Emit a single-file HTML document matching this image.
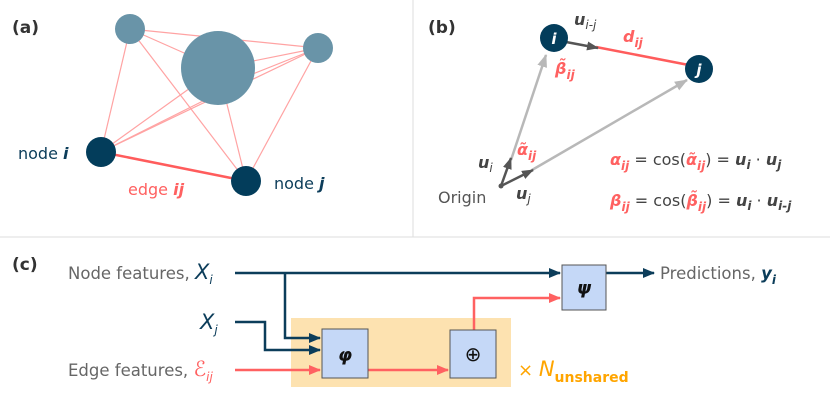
<!DOCTYPE html><html><head><style>body{margin:0;background:#fff}svg{display:block;font-family:"DejaVu Sans","Liberation Sans",sans-serif}</style></head><body>
<svg width="830" height="415" viewBox="0 0 830 415">
<defs>
<marker id="ad" markerWidth="12" markerHeight="10" refX="11" refY="5" orient="auto" markerUnits="userSpaceOnUse"><path d="M0,0L12,5L0,10z" fill="#0c3d5a"/></marker>
<marker id="ar" markerWidth="12" markerHeight="10" refX="11" refY="5" orient="auto" markerUnits="userSpaceOnUse"><path d="M0,0L12,5L0,10z" fill="#ff6161"/></marker>
<marker id="ag" markerWidth="13" markerHeight="10" refX="12" refY="5" orient="auto" markerUnits="userSpaceOnUse"><path d="M0,0L13,5L0,10z" fill="#b8b8b8"/></marker>
<marker id="ak" markerWidth="12" markerHeight="9" refX="11" refY="4.5" orient="auto" markerUnits="userSpaceOnUse"><path d="M0,0L12,4.5L0,9z" fill="#555"/></marker>
</defs>
<line x1="413" y1="0" x2="413" y2="237" stroke="#ddd"/>
<line x1="0" y1="237" x2="830" y2="237" stroke="#ddd"/>
<!-- (a) -->
<text x="12" y="33" font-size="17" font-weight="bold" fill="#333">(a)</text>
<g stroke="#ffa3a3" stroke-width="1.2">
<line x1="130" y1="29" x2="218" y2="68"/><line x1="130" y1="29" x2="101" y2="152"/><line x1="130" y1="29" x2="246" y2="181"/>
<line x1="218" y1="68" x2="318" y2="48"/><line x1="218" y1="68" x2="101" y2="152"/><line x1="218" y1="68" x2="246" y2="181"/>
<line x1="318" y1="48" x2="246" y2="181"/><line x1="318" y1="48" x2="101" y2="152"/>
<line x1="130" y1="29" x2="318" y2="48"/><line x1="318" y1="48" x2="200" y2="95"/><line x1="101" y1="152" x2="205" y2="100"/>
</g>
<line x1="101" y1="152" x2="246" y2="181" stroke="#ff5c5c" stroke-width="2.5"/>
<circle cx="130" cy="29" r="15" fill="#6994a8"/><circle cx="218" cy="68" r="37" fill="#6994a8"/><circle cx="318" cy="48" r="15" fill="#6994a8"/>
<circle cx="101" cy="152" r="15" fill="#033d5b"/><circle cx="246" cy="181" r="15" fill="#033d5b"/>
<text x="18" y="159" font-size="16" fill="#0c3d5a">node <tspan font-weight="bold" font-style="italic">i</tspan></text>
<text x="274" y="189" font-size="16" fill="#0c3d5a">node <tspan font-weight="bold" font-style="italic">j</tspan></text>
<text x="128" y="195" font-size="16" fill="#ff6161">edge <tspan font-weight="bold" font-style="italic">ij</tspan></text>
<!-- (b) -->
<text x="428" y="33" font-size="17" font-weight="bold" fill="#333">(b)</text>
<line x1="511" y1="160" x2="546" y2="55" stroke="#b8b8b8" stroke-width="2.5" marker-end="url(#ag)"/>
<line x1="532" y1="170" x2="687" y2="80" stroke="#b8b8b8" stroke-width="2.5" marker-end="url(#ag)"/>
<line x1="501" y1="186" x2="511" y2="158" stroke="#555" stroke-width="2.5" marker-end="url(#ak)"/>
<line x1="501" y1="186" x2="533" y2="170" stroke="#555" stroke-width="2.5" marker-end="url(#ak)"/>
<circle cx="501" cy="186" r="2.5" fill="#555"/>
<line x1="596" y1="47" x2="699" y2="67" stroke="#ff5c5c" stroke-width="2.5"/>
<line x1="566" y1="42" x2="598" y2="48" stroke="#555" stroke-width="2.5" marker-end="url(#ak)"/>
<circle cx="554" cy="38" r="14" fill="#033d5b"/><circle cx="699" cy="69" r="14" fill="#033d5b"/>
<text x="554" y="44" font-size="15" font-weight="bold" font-style="italic" fill="#fff" text-anchor="middle">i</text>
<text x="699" y="75" font-size="15" font-weight="bold" font-style="italic" fill="#fff" text-anchor="middle">j</text>
<g font-size="16" font-style="italic" font-weight="bold">
<text x="574" y="25" fill="#444">u<tspan font-size="12" dy="4" font-weight="normal">i-j</tspan></text>
<text x="623" y="42" fill="#ff6161">d<tspan font-size="12" dy="5">ij</tspan></text>
<text x="555" y="74" fill="#ff6161">β̃<tspan font-size="12" dy="5">ij</tspan></text>
<text x="517" y="155" fill="#ff6161">α̃<tspan font-size="12" dy="5">ij</tspan></text>
<text x="478" y="168" fill="#444">u<tspan font-size="12" dy="4" font-weight="normal">i</tspan></text>
<text x="516" y="199" fill="#444">u<tspan font-size="12" dy="4" font-weight="normal">j</tspan></text>
</g>
<text x="438" y="203" font-size="16" fill="#555">Origin</text>
<text x="610" y="165" font-size="16" fill="#444"><tspan fill="#ff6161" font-weight="bold" font-style="italic">α<tspan font-size="12" dy="5">ij</tspan></tspan><tspan dy="-5"> = cos(</tspan><tspan fill="#ff6161" font-weight="bold" font-style="italic">α̃<tspan font-size="12" dy="5">ij</tspan></tspan><tspan dy="-5">) = </tspan><tspan font-weight="bold" font-style="italic">u<tspan font-size="12" dy="4">i</tspan></tspan><tspan dy="-4"> · </tspan><tspan font-weight="bold" font-style="italic">u<tspan font-size="12" dy="4">j</tspan></tspan></text>
<text x="610" y="206" font-size="16" fill="#444"><tspan fill="#ff6161" font-weight="bold" font-style="italic">β<tspan font-size="12" dy="5">ij</tspan></tspan><tspan dy="-5"> = cos(</tspan><tspan fill="#ff6161" font-weight="bold" font-style="italic">β̃<tspan font-size="12" dy="5">ij</tspan></tspan><tspan dy="-5">) = </tspan><tspan font-weight="bold" font-style="italic">u<tspan font-size="12" dy="4">i</tspan></tspan><tspan dy="-4"> · </tspan><tspan font-weight="bold" font-style="italic">u<tspan font-size="12" dy="4">i-j</tspan></tspan></text>
<!-- (c) -->
<text x="12" y="270" font-size="17" font-weight="bold" fill="#333">(c)</text>
<rect x="291" y="318" width="220" height="69" fill="#fde2b0"/>
<g stroke="#0c3d5a" stroke-width="2.5" fill="none">
<line x1="235" y1="273" x2="560" y2="273" marker-end="url(#ad)"/>
<line x1="605" y1="273" x2="654" y2="273" marker-end="url(#ad)"/>
<polyline points="285,273 285,338 320,338" marker-end="url(#ad)"/>
<polyline points="235,322 265,322 265,350 320,350" marker-end="url(#ad)"/>
</g>
<g stroke="#ff6161" stroke-width="2.5" fill="none">
<line x1="235" y1="370" x2="320" y2="370" marker-end="url(#ar)"/>
<line x1="368" y1="370" x2="448" y2="370" marker-end="url(#ar)"/>
<polyline points="474,330 474,298 560,298" marker-end="url(#ar)"/>
</g>
<rect x="322" y="329" width="46" height="49" fill="#c5d8f7" stroke="#555"/>
<rect x="450" y="330" width="46" height="48" fill="#c5d8f7" stroke="#555"/>
<rect x="562" y="265" width="44" height="45" fill="#c5d8f7" stroke="#555"/>
<text x="345" y="361" font-size="18" font-weight="bold" font-style="italic" text-anchor="middle" fill="#111">φ</text>
<text x="473" y="361" font-size="20" text-anchor="middle" fill="#111">⊕</text>
<text x="584" y="294" font-size="18" font-weight="bold" font-style="italic" text-anchor="middle" fill="#111">ψ</text>
<text x="68" y="279" font-size="16.5" fill="#666">Node features, <tspan fill="#0c3d5a" font-style="italic" font-size="21">X<tspan font-size="12" dy="5">i</tspan></tspan></text>
<text x="200" y="329" font-size="21" font-style="italic" fill="#0c3d5a">X<tspan font-size="12" dy="5">j</tspan></text>
<text x="68" y="376" font-size="16.5" fill="#666">Edge features, <tspan fill="#ff6161" font-style="italic" font-size="21">ℰ<tspan font-size="12" dy="5">ij</tspan></tspan></text>
<text x="660" y="279" font-size="16.5" fill="#666">Predictions, <tspan fill="#0c3d5a" font-weight="bold" font-style="italic">y<tspan font-size="12" dy="5">i</tspan></tspan></text>
<text x="518" y="376" font-size="18" fill="#ffa500">× <tspan font-style="italic" font-size="21">N</tspan><tspan font-size="14" font-weight="bold" dy="6">unshared</tspan></text>
</svg></body></html>
